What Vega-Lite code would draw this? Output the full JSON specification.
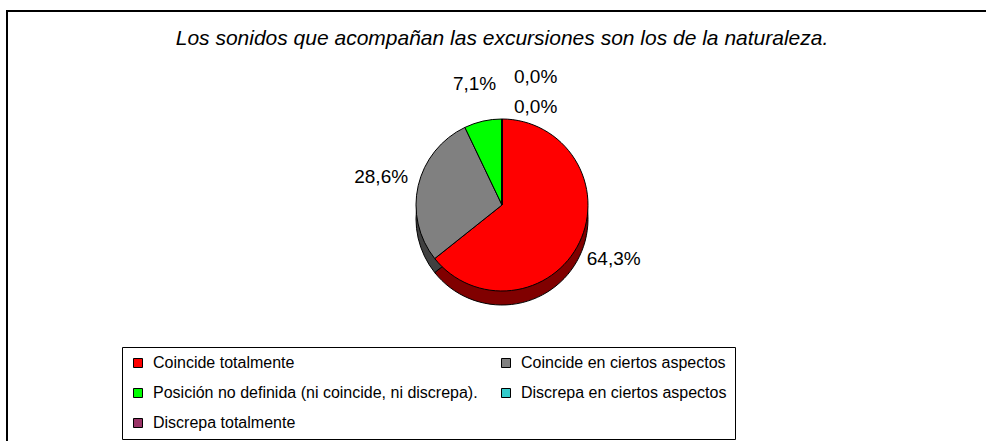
{
  "$schema": "https://vega.github.io/schema/vega-lite/v6.json",
  "width": 990,
  "height": 440,
  "autosize": "none",
  "padding": {"left": 7, "top": 11, "right": 0, "bottom": 0},
  "background": "white",
  "view": {"stroke": "black", "strokeWidth": 2, "fill": "white"},
  "title": {
    "text": "Los sonidos que acompañan las excursiones son los de la naturaleza.",
    "font": "Liberation Sans",
    "fontStyle": "italic",
    "fontWeight": "normal",
    "fontSize": 21,
    "color": "black",
    "anchor": "middle",
    "offset": -34,
    "dy": 21,
    "baseline": "alphabetic"
  },
  "data": {
    "values": [
      {"Categoria": "Coincide totalmente", "orden": 1, "pct": 0.643},
      {"Categoria": "Coincide en ciertos aspectos", "orden": 2, "pct": 0.286},
      {"Categoria": "Posición no definida (ni coincide, ni discrepa).", "orden": 3, "pct": 0.071},
      {"Categoria": "Discrepa en ciertos aspectos", "orden": 4, "pct": 0},
      {"Categoria": "Discrepa totalmente", "orden": 5, "pct": 0}
    ]
  },
  "encoding": {
    "theta": {"field": "pct", "type": "quantitative", "stack": true},
    "order": {"field": "orden", "type": "quantitative"}
  },
  "layer": [
    {
      "mark": {"type": "arc", "outerRadius": 86, "yOffset": -12, "stroke": "black", "strokeWidth": 1},
      "encoding": {
        "color": {
          "field": "Categoria",
          "type": "nominal",
          "scale": {
            "domain": ["Coincide totalmente", "Coincide en ciertos aspectos", "Posición no definida (ni coincide, ni discrepa).", "Discrepa en ciertos aspectos", "Discrepa totalmente"],
            "range": ["#800000", "#404040", "#008000", "#1a6666", "#4d1a33"]
          },
          "legend": null
        }
      }
    },
    {
      "mark": {"type": "arc", "outerRadius": 86, "yOffset": -26, "stroke": "black", "strokeWidth": 1},
      "encoding": {
        "color": {
          "field": "Categoria",
          "type": "nominal",
          "scale": {
            "domain": ["Coincide totalmente", "Coincide en ciertos aspectos", "Posición no definida (ni coincide, ni discrepa).", "Discrepa en ciertos aspectos", "Discrepa totalmente"],
            "range": ["#ff0000", "#808080", "#00ff00", "#33cccc", "#993366"]
          },
          "legend": {
            "orient": "none",
            "legendX": 115,
            "legendY": 336,
            "direction": "horizontal",
            "columns": 2,
            "gridAlign": "all",
            "title": null,
            "symbolType": "square",
            "symbolSize": 81,
            "symbolStrokeColor": "black",
            "symbolStrokeWidth": 1,
            "symbolOpacity": 1,
            "labelFont": "Liberation Sans",
            "labelFontSize": 16,
            "labelColor": "black",
            "labelOffset": 7,
            "labelLimit": 600,
            "rowPadding": 14,
            "columnPadding": 20,
            "padding": 8,
            "strokeColor": "black"
          }
        }
      }
    },
    {
      "transform": [{"filter": "datum.pct > 0"}],
      "mark": {"type": "text", "radius": 124, "yOffset": -26, "font": "Liberation Sans", "fontSize": 19, "fill": "black", "baseline": "middle", "align": "center"},
      "encoding": {
        "text": {"field": "pct", "type": "quantitative", "format": ".1%"},
        "detail": {"field": "Categoria", "type": "nominal"}
      }
    },
    {
      "transform": [{"filter": "datum.pct == 0"}],
      "mark": {"type": "text", "yOffset": -26, "dx": 12, "font": "Liberation Sans", "fontSize": 19, "fill": "black", "baseline": "middle", "align": "left"},
      "encoding": {
        "radius": {"field": "orden", "type": "quantitative", "scale": {"type": "linear", "zero": false, "domain": [4, 5], "range": [98, 128]}},
        "text": {"field": "pct", "type": "quantitative", "format": ".1%"},
        "detail": {"field": "Categoria", "type": "nominal"}
      }
    }
  ],
  "resolve": {"scale": {"color": "independent"}},
  "config": {
    "locale": {
      "number": {"decimal": ",", "thousands": ".", "grouping": [3], "currency": ["", " €"]}
    }
  }
}
